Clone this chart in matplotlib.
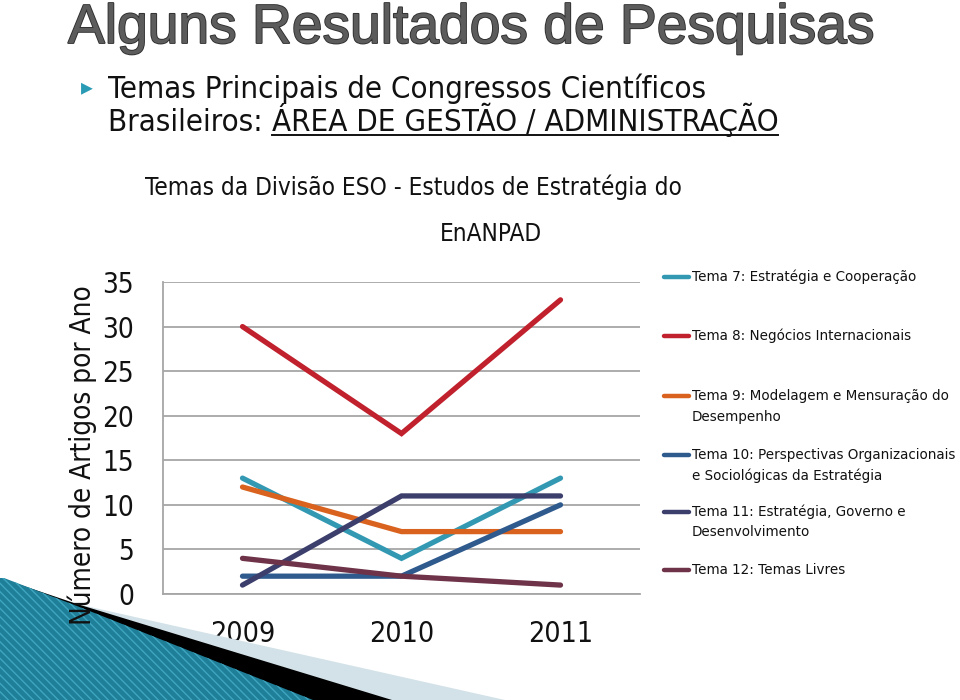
import matplotlib
matplotlib.use('Agg')
import matplotlib.pyplot as plt
from matplotlib import font_manager as fm
from matplotlib.lines import Line2D
from matplotlib.patches import Polygon
import matplotlib.patheffects as pe

# ---------------- data ----------------
years = ['2009', '2010', '2011']
tema7 = [13, 4, 13]
tema8 = [30, 18, 33]
tema9 = [12, 7, 7]
tema10 = [2, 2, 10]
tema11 = [1, 11, 11]
tema12 = [4, 2, 1]
series = [tema7, tema8, tema9, tema10, tema11, tema12]
series_labels = [
    'Tema 7: Estratégia e Cooperação',
    'Tema 8: Negócios Internacionais',
    'Tema 9: Modelagem e Mensuração do\nDesempenho',
    'Tema 10: Perspectivas Organizacionais\ne Sociológicas da Estratégia',
    'Tema 11: Estratégia, Governo e\nDesenvolvimento',
    'Tema 12: Temas Livres',
]
colors = ['#3399B3', '#C0212D', '#D9621F', '#2F5A8E', '#3C3E6C', '#6E3348']
yticks = [0, 5, 10, 15, 20, 25, 30, 35]

page_title = 'Alguns Resultados de Pesquisas'
bullet_line1 = 'Temas Principais de Congressos Científicos'
bullet_line2a = 'Brasileiros: '
bullet_line2b = 'ÁREA DE GESTÃO / ADMINISTRAÇÃO'
chart_title1 = 'Temas da Divisão ESO - Estudos de Estratégia do'
chart_title2 = 'EnANPAD'
ylabel = 'Número de Artigos por Ano'

# ---------------- fonts ----------------
def font_by_file(fname_lower, fallback_family):
    for f in fm.fontManager.ttflist:
        if f.fname.lower().split('/')[-1] == fname_lower:
            return fm.FontProperties(fname=f.fname)
    return fm.FontProperties(family=fallback_family)

fp_cond = font_by_file('dejavusanscondensed.ttf', 'DejaVu Sans')
fp_lib = font_by_file('liberationsans-regular.ttf', 'DejaVu Sans')
fp_dv = fm.FontProperties(family='DejaVu Sans')

W, H = 960, 700
fig = plt.figure(figsize=(9.6, 7), dpi=100)
fig.patch.set_facecolor('white')

def fx(x):
    return x / W

def fy(y):
    return 1 - y / H

renderer = fig.canvas.get_renderer()

def fit(t, target, dim='w'):
    bb = t.get_window_extent(renderer)
    cur = bb.width if dim == 'w' else bb.height
    t.set_fontsize(t.get_fontsize() * target / cur)
    return t

# ---------------- decoration (bottom-left) ----------------
def poly(pts, **kw):
    p = Polygon([(fx(a), fy(b)) for a, b in pts], closed=True,
                transform=fig.transFigure, **kw)
    fig.patches.append(p)
    return p

poly([(0, 578), (77, 604), (505, 700), (0, 700)], facecolor='#D3E2E8', edgecolor='none', zorder=0)
poly([(0, 578), (77, 604), (392, 700), (0, 700)], facecolor='#000000', edgecolor='none', zorder=0.1)
poly([(4, 578), (77, 606), (313, 700), (0, 700), (0, 578)], facecolor='#1F7F99',
     edgecolor='#3FA6C0', hatch='\\\\\\\\', linewidth=0, zorder=0.2)

# ---------------- axes ----------------
ax = fig.add_axes([fx(163), fy(594), fx(640) - fx(163), fy(282) - fy(594)])
ax.set_facecolor('none')
x = list(range(len(years)))
for vals, c, lab in zip(series, colors, series_labels):
    ax.plot(x, vals, color=c, lw=3.8, solid_capstyle='round', solid_joinstyle='miter', label=lab, zorder=3)
ax.set_xlim(-0.5, 2.5)
ax.set_ylim(0, 35)
ax.set_yticks(yticks)
ax.set_xticks(x)
ax.set_xticklabels(years)
ax.grid(axis='y', color='#A6A6A6', lw=1.3)
ax.set_axisbelow(True)
for s in ('top', 'right'):
    ax.spines[s].set_visible(False)
for s in ('left', 'bottom'):
    ax.spines[s].set_color('#A6A6A6')
    ax.spines[s].set_linewidth(1.3)
ax.tick_params(axis='y', length=0, pad=21)
ax.tick_params(axis='x', length=0, pad=19)
for lbl in ax.get_yticklabels():
    lbl.set_fontproperties(fp_cond)
    lbl.set_fontsize(20)
    lbl.set_color('#111111')
for lbl in ax.get_xticklabels():
    lbl.set_fontproperties(fp_cond)
    lbl.set_fontsize(20.5)
    lbl.set_color('#111111')

# y label
yl = fig.text(fx(82), fy(455), ylabel, rotation=90, ha='center', va='center',
              fontproperties=fp_cond, fontsize=20, color='#111111')
fit(yl, 340, 'h')

# ---------------- titles ----------------
t = fig.text(fx(68), fy(43), page_title, ha='left', va='baseline',
             fontproperties=fp_lib, fontsize=36, color='#5c5c5c')
fit(t, 807)
t.set_path_effects([pe.withStroke(linewidth=1.3, foreground='#2e2e2e')])

fig.text(fx(87), fy(87), '\u25B8', ha='center', va='center', fontsize=17,
         color='#2A9BB5', family='DejaVu Sans')

# second bullet line sets the size
b2a = fig.text(fx(108), fy(131), bullet_line2a, ha='left', va='baseline',
               fontproperties=fp_cond, fontsize=26, color='#111111')
b2b = fig.text(fx(108), fy(131), bullet_line2b, ha='left', va='baseline',
               fontproperties=fp_cond, fontsize=26, color='#111111')
wa = b2a.get_window_extent(renderer).width
wb = b2b.get_window_extent(renderer).width
bfs = 26 * 672 / (wa + wb)
b2a.set_fontsize(bfs)
b2b.set_fontsize(bfs)
bb = b2a.get_window_extent(renderer)
b2b.set_x(bb.x1 / W)
bb2 = b2b.get_window_extent(renderer)
fig.add_artist(Line2D([bb2.x0 / W, bb2.x1 / W], [fy(135), fy(135)], color='#111111',
                      lw=1.4, transform=fig.transFigure))
b1 = fig.text(fx(108), fy(98), bullet_line1, ha='left', va='baseline',
              fontproperties=fp_cond, fontsize=bfs, color='#111111')

c1 = fig.text(fx(145), fy(195), chart_title1, ha='left', va='baseline',
              fontproperties=fp_cond, fontsize=20, color='#111111')
fit(c1, 535)
c2 = fig.text(fx(440), fy(241), chart_title2, ha='left', va='baseline',
              fontproperties=fp_cond, fontsize=c1.get_fontsize(), color='#111111')

# ---------------- legend ----------------
leg_y = [277, 336, 396, 455, 512, 570]
leg_fs = None
for i, (lab, c, yy) in enumerate(zip(series_labels, colors, leg_y)):
    fig.add_artist(Line2D([fx(664), fx(689)], [fy(yy), fy(yy)], color=c, lw=3.2,
                          solid_capstyle='round', transform=fig.transFigure))
    for j, line in enumerate(lab.split('\n')):
        tt = fig.text(fx(692), fy(yy + j * 20.5), line, ha='left', va='center',
                      fontproperties=fp_dv, fontsize=10, color='#111111')
        if leg_fs is None:
            fit(tt, 225)
            leg_fs = tt.get_fontsize()
        else:
            tt.set_fontsize(leg_fs)

fig.savefig('out.png', dpi=100, facecolor='white')
